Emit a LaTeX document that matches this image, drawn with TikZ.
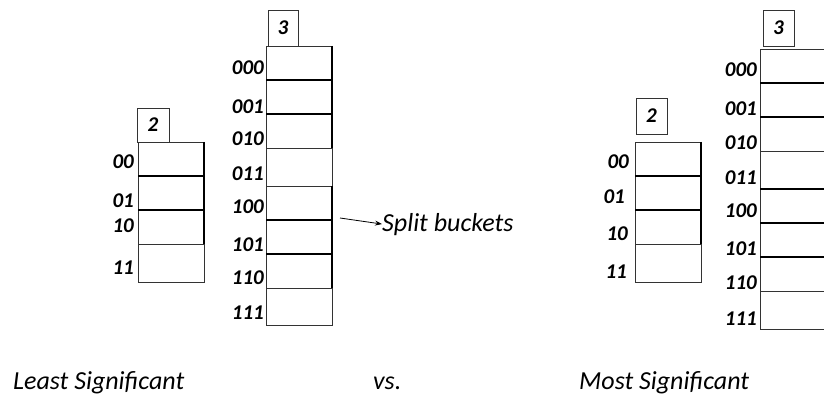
\documentclass[tikz,border=0pt]{standalone}
\usepackage{fontspec}
\setmainfont{Carlito}
\usetikzlibrary{arrows.meta}
\tikzset{
  cellline/.style={draw=black!80, line width=0.8pt},
  splitline/.style={draw=black, line width=1.7pt},
  lbl/.style={font=\fontsize{21}{21}\selectfont\bfseries\itshape, anchor=east, inner sep=0pt},
  depthlbl/.style={font=\fontsize{21}{21}\selectfont\bfseries\itshape, inner sep=0pt},
  caption/.style={font=\fontsize{26}{26}\selectfont\itshape, anchor=base west, inner sep=0pt}
}
\begin{document}
\begin{tikzpicture}[x=1pt,y=-1pt]
  \clip (0,0) rectangle (824,398);
  % least significant bits: global depth 2
  \draw[cellline] (137,108) rectangle (169,142);
  \node[depthlbl] (ld2) at (153,125) {2};
  \draw[cellline] (138,142) rectangle (204,282);
  \draw[cellline] (138,244) -- (204,244);
  \draw[splitline] (138,176) -- (204,176) (138,210) -- (204,210) (204,142) -- (204,244);
  \node[lbl] (l00) at (134,162) {00};
  \node[lbl] (l01) at (134,201) {01};
  \node[lbl] (l10) at (134,226) {10};
  \node[lbl] (l11) at (134,268) {11};
  % least significant bits: global depth 3
  \draw[cellline] (268,10) rectangle (298,46);
  \node[depthlbl] (ld3) at (283,28) {3};
  \draw[cellline] (266,46) rectangle (332,325);
  \draw[cellline] (266,148) -- (332,148) (266,186) -- (332,186) (266,288) -- (332,288);
  \draw[splitline] (266,80) -- (332,80) (266,114) -- (332,114)
    (266,220) -- (332,220) (266,254) -- (332,254)
    (332,46) -- (332,148) (332,186) -- (332,288);
  \node[lbl] (l000) at (264,68) {000};
  \node[lbl] (l001) at (264,107) {001};
  \node[lbl] (l010) at (264,139) {010};
  \node[lbl] (l011) at (264,174) {011};
  \node[lbl] (l100) at (264,207) {100};
  \node[lbl] (l101) at (264,245) {101};
  \node[lbl] (l110) at (264,278) {110};
  \node[lbl] (l111) at (264,313) {111};
  % split buckets
  \coordinate (split) at (340,218);
  \node[caption] (sb) at (382,231) {Split buckets};
  \draw[-{Stealth[length=7pt,width=5pt]}, line width=0.8pt] (split) -- (sb.west);
  % most significant bits: global depth 2
  \draw[cellline] (636,98) rectangle (667,134);
  \node[depthlbl] (md2) at (651.5,116) {2};
  \draw[cellline] (635,142) rectangle (701,282);
  \draw[cellline] (635,244) -- (701,244);
  \draw[splitline] (635,176) -- (701,176) (635,210) -- (701,210) (701,142) -- (701,244);
  \node[lbl] (m00) at (629,162) {00};
  \node[lbl] (m01) at (625,197) {01};
  \node[lbl] (m10) at (628,234) {10};
  \node[lbl] (m11) at (627,272) {11};
  % most significant bits: global depth 3
  \draw[cellline] (763,10) rectangle (794,46);
  \node[depthlbl] (md3) at (778.5,28) {3};
  \draw[cellline] (760,49) rectangle (840,329);
  \draw[cellline] (760,151) -- (840,151) (760,291) -- (840,291);
  \draw[splitline] (760,83) -- (840,83) (760,117) -- (840,117)
    (760,189) -- (840,189) (760,223) -- (840,223) (760,257) -- (840,257);
  \node[lbl] (m000) at (757,70) {000};
  \node[lbl] (m001) at (757,109) {001};
  \node[lbl] (m010) at (757,143) {010};
  \node[lbl] (m011) at (757,178) {011};
  \node[lbl] (m100) at (757,211) {100};
  \node[lbl] (m101) at (757,249) {101};
  \node[lbl] (m110) at (757,283) {110};
  \node[lbl] (m111) at (757,319) {111};
  % captions
  \node[caption] (lsb) at (13,389) {Least Significant};
  \node[caption] (vs) at (373,389) {vs.};
  \node[caption] (msb) at (579,389) {Most Significant};
\end{tikzpicture}
\end{document}
